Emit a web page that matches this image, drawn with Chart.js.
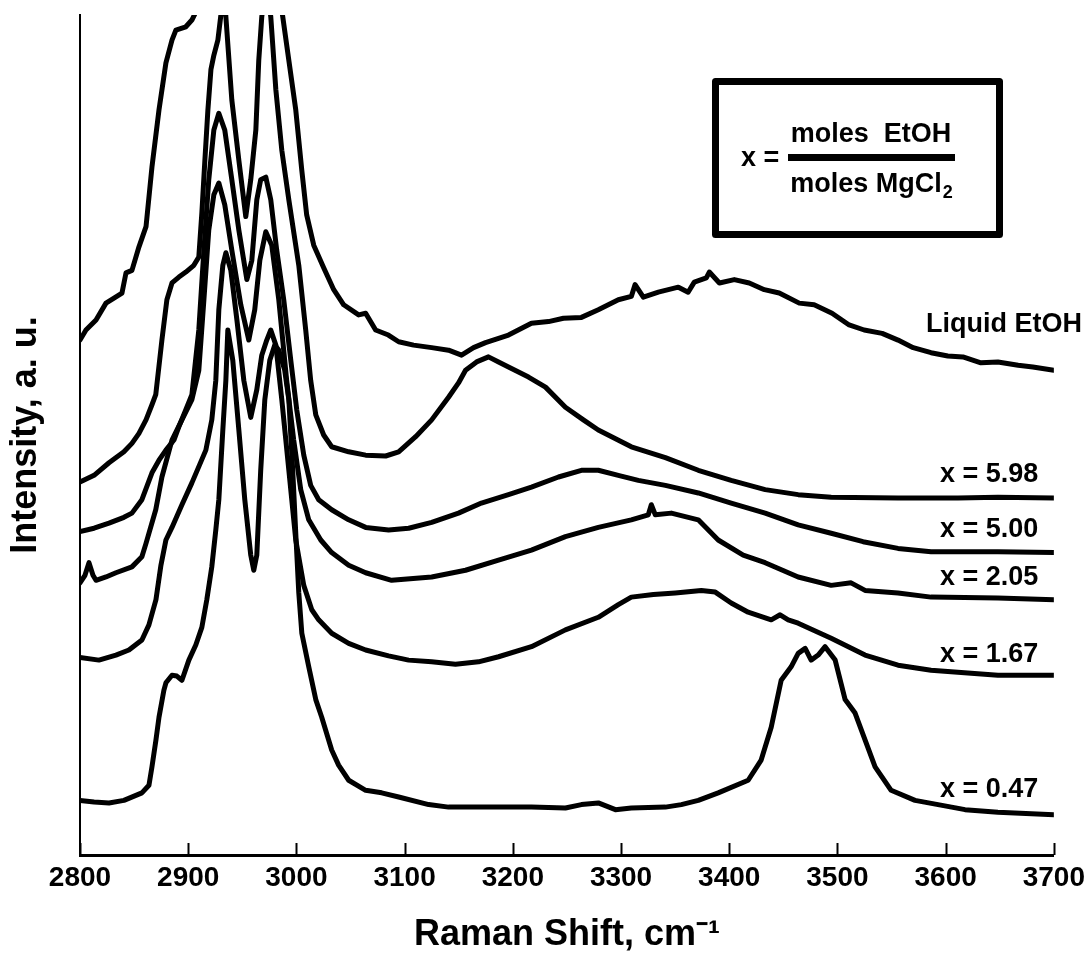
<!DOCTYPE html>
<html>
<head>
<meta charset="utf-8">
<title>Raman EtOH / MgCl2</title>
<script src="https://cdn.jsdelivr.net/npm/chart.js@4.4.1/dist/chart.umd.min.js"></script>
<style>
  html, body { margin: 0; padding: 0; background: #fff; }
  #raman { display: block; }
</style>
</head>
<body>
<canvas id="raman" width="1091" height="966"></canvas>
<script>
// espectros: [deslocamento Raman (cm-1), intensidade (u.a.)]
const shiftTicks = [2800, 2900, 3000, 3100, 3200, 3300, 3400, 3500, 3600, 3700];

const seriesNames = ['Liquid EtOH', 'x = 5.98', 'x = 5.00', 'x = 2.05', 'x = 1.67', 'x = 0.47'];

const liquidEtOH = [
  [2800, 61.3], [2805.5, 62.5], [2814.8, 63.7], [2824, 65.7], [2831.4, 66.3], [2838.8, 66.9],
  [2842.5, 69.3], [2848, 69.6], [2854.5, 72.4], [2861, 74.8], [2866.5, 81.9], [2873, 88.7],
  [2879.4, 94.3], [2885, 97.0], [2888.6, 98.2], [2897.8, 98.6], [2903.4, 99.4], [2908, 100.6],
  [2915, 112], [2930, 135], [2950, 120], [2975, 140], [2986.5, 100.6], [2993, 94.6],
  [2999.4, 88.7], [3005, 81.5], [3009.5, 76.2], [3016, 72.6], [3025.2, 69.9], [3034.5, 67.3],
  [3043.7, 65.5], [3057.5, 64.3], [3064, 64.5], [3073.2, 62.5], [3085, 61.9], [3094.5, 61.1],
  [3108.3, 60.7], [3125, 60.4], [3140.6, 60.1], [3152.6, 59.5], [3163.7, 60.4], [3174.8, 61.0],
  [3196, 61.9], [3217.2, 63.3], [3233, 63.5], [3246.8, 63.9], [3263.4, 64.0], [3279, 64.9],
  [3297.5, 66.1], [3309.5, 66.5], [3313, 67.9], [3320.6, 66.4], [3334.5, 67.0], [3353, 67.6],
  [3362, 67.0], [3367.7, 68.2], [3378.8, 68.7], [3381.6, 69.4], [3390.9, 68.1], [3404.7, 68.5],
  [3418.5, 68.1], [3432.4, 67.3], [3446.2, 66.9], [3464.7, 65.7], [3478.5, 65.5], [3495, 64.5],
  [3510.8, 63.1], [3524.7, 62.5], [3541.3, 62.1], [3556, 61.3], [3570, 60.4], [3586.5, 59.8],
  [3602, 59.4], [3616, 59.3], [3632.6, 58.6], [3648.3, 58.7], [3667, 58.3], [3680.6, 58.1],
  [3700, 57.7]
];

const x598 = [
  [2800, 44.4], [2813, 45.2], [2826.8, 46.7], [2840.6, 48.0], [2848, 49.0], [2854.5, 50.2],
  [2861, 51.8], [2866.5, 53.6], [2870, 54.8], [2875.7, 61.3], [2880.3, 66.1], [2885, 68.1],
  [2891.4, 68.8], [2897.8, 69.4], [2905.2, 70.2], [2909.8, 71.2], [2912.6, 76.4], [2915.4, 82.7],
  [2918.2, 88.7], [2921, 93.5], [2923.7, 95.2], [2927.4, 97.0], [2930.2, 100], [2933, 104],
  [2934.8, 99.8], [2940.3, 89.9], [2946.8, 82.7], [2953.2, 76.0], [2957.8, 80.4], [2962.5, 86.3],
  [2965.2, 94.6], [2968, 99.8], [2972, 104], [2976.3, 99.8], [2981, 91.1], [2986.5, 83.9],
  [2993, 78.0], [3002.2, 70.2], [3008.6, 62.5], [3013.2, 56.5], [3017.9, 52.4], [3025.2, 50.0],
  [3032.6, 48.6], [3048.3, 48.0], [3064, 47.6], [3082.5, 47.5], [3094.5, 48.0], [3110.2, 49.8],
  [3125, 51.8], [3140.6, 54.5], [3149.8, 56.2], [3156.3, 57.7], [3166.5, 58.7], [3177.5, 59.3],
  [3186.8, 58.7], [3196, 58.1], [3214.5, 56.9], [3230.2, 55.7], [3248.6, 53.3], [3265.2, 51.8],
  [3279, 50.6], [3309.5, 48.6], [3341, 47.3], [3371.4, 45.8], [3401.8, 44.6], [3433.2, 43.5],
  [3463.7, 42.9], [3494.2, 42.6], [3556, 42.5], [3611.4, 42.5], [3648.3, 42.6], [3700, 42.5]
];

const x500 = [
  [2800, 38.5], [2813, 38.9], [2826.8, 39.5], [2840.6, 40.2], [2848, 40.7], [2857.2, 42.3],
  [2866.5, 45.5], [2873, 47.0], [2879.4, 48.2], [2886.8, 49.4], [2891.4, 51.0], [2897.8, 53.0],
  [2903.4, 54.8], [2909.8, 62.5], [2914.5, 72.0], [2919, 80.4], [2923.7, 86.3], [2928.3, 88.3],
  [2933.8, 86.3], [2940.3, 80.4], [2946.8, 74.4], [2954.2, 68.5], [2958.8, 70.8], [2963.4, 78.0],
  [2967, 80.4], [2971.7, 80.7], [2976.3, 78.0], [2981.8, 72.0], [2988.3, 66.1], [2994.8, 58.9],
  [3000.3, 53.0], [3006.8, 47.6], [3013.2, 44.0], [3020.6, 42.3], [3032.6, 41.1], [3048.3, 39.9],
  [3064, 39.0], [3085.2, 38.7], [3103.7, 38.9], [3125, 39.6], [3149.8, 40.7], [3171, 41.9],
  [3196, 42.9], [3217.2, 43.8], [3242.2, 45.0], [3263.4, 45.8], [3279, 45.8], [3297.5, 45.2],
  [3316, 44.6], [3341, 44.0], [3371.4, 43.1], [3401.8, 41.9], [3433.2, 40.7], [3463.7, 39.3],
  [3494.2, 38.3], [3523.7, 37.3], [3556, 36.5], [3586.5, 36.1], [3648.3, 36.1], [3700, 36.0]
];

const x205 = [
  [2800, 32.4], [2804.6, 33.3], [2808.3, 34.8], [2812, 33.3], [2814.8, 32.7], [2824, 33.1],
  [2833.2, 33.6], [2848, 34.3], [2857.2, 35.5], [2861, 37.1], [2870, 41.1], [2875.7, 45.0],
  [2885, 49.4], [2894.2, 51.8], [2903.4, 54.2], [2909.8, 57.7], [2914.5, 66.1], [2919, 74.4],
  [2923.7, 78.6], [2928.3, 80.0], [2933.8, 77.4], [2940.3, 72.0], [2948.6, 65.5], [2956, 61.3],
  [2961.5, 64.9], [2966.2, 70.8], [2971.7, 74.2], [2977.2, 72.6], [2983.7, 66.1], [2991, 56.5],
  [2997.5, 49.4], [3004, 43.5], [3011.4, 39.9], [3022.5, 37.5], [3032.6, 36.0], [3048.3, 34.5],
  [3064, 33.6], [3088, 32.7], [3125, 33.1], [3156.3, 33.9], [3186.8, 35.1], [3217.2, 36.3],
  [3248.6, 37.9], [3279, 39.0], [3309.5, 39.9], [3325.2, 40.5], [3328, 41.7], [3331.7, 40.5],
  [3346.5, 40.7], [3371.4, 39.9], [3389.8, 37.5], [3412.9, 35.7], [3433.2, 34.8], [3463.7, 33.1],
  [3494.2, 32.1], [3512.6, 32.4], [3525.5, 31.5], [3556, 31.2], [3586.5, 30.7], [3648.3, 30.6],
  [3700, 30.4]
];

const x167 = [
  [2800, 23.5], [2817.5, 23.2], [2833.2, 23.8], [2845.2, 24.4], [2857.2, 25.6], [2863.7, 27.4],
  [2870.2, 30.4], [2874.8, 34.5], [2879.4, 37.5], [2885, 39.0], [2894.2, 41.7], [2903.4, 44.3],
  [2916.3, 48.2], [2921.8, 51.8], [2925.5, 56.5], [2928.3, 64.9], [2932, 70.2], [2934.8, 71.7],
  [2939.4, 69.6], [2945, 63.7], [2951.4, 56.5], [2957.8, 52.1], [2963.4, 55.4], [2968, 59.5],
  [2972.6, 61.3], [2976.3, 62.5], [2981, 60.7], [2986.5, 54.2], [2993, 45.8], [2999.4, 37.5],
  [3006.8, 32.1], [3014.2, 29.2], [3020.6, 28.0], [3032.6, 26.4], [3048.3, 25.2], [3064, 24.4],
  [3085.2, 23.7], [3103.7, 23.2], [3125, 23.0], [3147, 22.7], [3168.3, 23.0], [3186.8, 23.6],
  [3217.2, 24.8], [3248.6, 26.8], [3279, 28.3], [3297.5, 29.8], [3309.5, 30.7], [3329.9, 31.0],
  [3350.1, 31.2], [3374.2, 31.5], [3387.1, 31.3], [3401.8, 30.0], [3417.5, 28.9], [3438.8, 28.0],
  [3447, 28.6], [3454.5, 28.0], [3463.7, 27.6], [3494.2, 25.8], [3525.5, 23.8], [3556, 22.6],
  [3586.5, 22.0], [3648.3, 21.4], [3700, 21.4]
];

const x047 = [
  [2800, 6.5], [2813, 6.3], [2826.8, 6.2], [2840.6, 6.5], [2857.2, 7.4], [2863.7, 8.3],
  [2866.5, 10.5], [2870.2, 13.7], [2873, 16.4], [2877.5, 19.6], [2879.4, 20.5], [2885, 21.4],
  [2889.5, 21.3], [2894.2, 20.8], [2900.6, 23.2], [2907, 25.0], [2912.6, 27.1], [2917.2, 30.4],
  [2921.8, 34.3], [2925.5, 38.7], [2928.3, 42.3], [2932, 50.6], [2934.8, 56.5], [2936.6, 62.5],
  [2941.2, 58.9], [2946.8, 50.6], [2952.3, 42.3], [2957.8, 35.7], [2960.6, 33.9], [2963.4, 35.7],
  [2967, 45.8], [2970.8, 54.2], [2975.4, 58.9], [2980, 60.7], [2983.7, 60.1], [2989.2, 57.7],
  [2993, 54.2], [2996.6, 45.8], [2999.4, 38.3], [3002.2, 31.2], [3005, 26.4], [3011.4, 22.4],
  [3017.9, 18.5], [3023.4, 16.4], [3032.6, 12.5], [3039, 10.7], [3048.3, 8.9], [3064, 7.7],
  [3078.8, 7.4], [3094.5, 6.9], [3122.2, 6.0], [3140.6, 5.7], [3186.8, 5.7], [3217.2, 5.7],
  [3248.6, 5.6], [3263.4, 6.0], [3279, 6.2], [3294.8, 5.4], [3309.5, 5.6], [3341, 5.7],
  [3355.7, 6.0], [3371.4, 6.5], [3389.8, 7.4], [3417.5, 8.9], [3429.5, 11.3], [3438.8, 15.2],
  [3448, 20.8], [3457.2, 22.4], [3463.7, 24.0], [3470.2, 24.6], [3475.7, 23.2], [3482.2, 23.8],
  [3488.6, 24.8], [3497.9, 23.2], [3507.1, 18.5], [3516.3, 16.9], [3525.5, 13.7], [3534.8, 10.5],
  [3549.6, 7.7], [3571.7, 6.5], [3593, 6.0], [3617.9, 5.4], [3648.3, 5.1], [3700, 4.8]
];

const spectra = [liquidEtOH, x598, x500, x205, x167, x047];

const fonteBold = "'Liberation Sans', Arial, sans-serif";

// rótulos das curvas, caixa com a fórmula e os ticks para dentro
const anotacoes = {
  id: 'anotacoes',
  afterDraw(chart) {
    const ctx = chart.ctx;
    const xs = chart.scales.x;
    const area = chart.chartArea;
    ctx.save();

    // ticks do eixo x apontando para dentro
    ctx.strokeStyle = '#000';
    ctx.lineWidth = 2;
    shiftTicks.forEach(v => {
      const px = Math.round(xs.getPixelForValue(v)) + 0.5;
      ctx.beginPath();
      ctx.moveTo(px, area.bottom);
      ctx.lineTo(px, area.bottom - 12);
      ctx.stroke();
    });

    // nomes das curvas
    ctx.fillStyle = '#000';
    ctx.font = 'bold 27px ' + fonteBold;
    ctx.textBaseline = 'alphabetic';
    ctx.textAlign = 'right';
    ctx.fillText(seriesNames[0], 1082, 332);
    ctx.textAlign = 'left';
    const baselines = [482, 537, 585, 662, 797];
    for (let i = 1; i < seriesNames.length; i++) {
      ctx.fillText(seriesNames[i], 940, baselines[i - 1]);
    }

    // caixa x = moles EtOH / moles MgCl2
    ctx.lineWidth = 7;
    ctx.lineJoin = 'round';
    ctx.strokeRect(715.5, 81.5, 284, 153);
    ctx.fillRect(788, 154, 167, 7);
    ctx.textAlign = 'left';
    ctx.fillText('x =', 741, 166);
    ctx.textAlign = 'center';
    ctx.fillText('moles  EtOH', 871, 142);
    ctx.textAlign = 'left';
    const w1 = ctx.measureText('moles MgCl').width;
    ctx.font = 'bold 18px ' + fonteBold;
    const w2 = ctx.measureText('2').width;
    const x0 = 871 - (w1 + w2) / 2;
    ctx.font = 'bold 27px ' + fonteBold;
    ctx.fillText('moles MgCl', x0, 192);
    ctx.font = 'bold 18px ' + fonteBold;
    ctx.fillText('2', x0 + w1 + 1, 198);

    ctx.restore();
  }
};

const dados = {
  datasets: spectra.map((s, i) => ({
    label: seriesNames[i],
    data: s,
    borderColor: '#000',
    borderWidth: 5,
    pointRadius: 0,
    tension: 0,
    borderJoinStyle: 'round',
    borderCapStyle: 'round',
    fill: false
  }))
};

const opcoes = {
  responsive: false,
  animation: false,
  layout: { padding: { top: 15, right: 35, left: 0, bottom: 0 } },
  plugins: {
    legend: { display: false },
    tooltip: { enabled: false },
    title: { display: false }
  },
  scales: {
    x: {
      type: 'linear',
      min: 2800,
      max: 3700,
      afterBuildTicks: s => { s.ticks = shiftTicks.map(v => ({ value: v })); },
      afterFit: s => { s.height = 111; },
      grid: { drawOnChartArea: false, drawTicks: false },
      border: { display: true, color: '#000', width: 3 },
      ticks: {
        padding: 6,
        color: '#000',
        maxRotation: 0,
        autoSkip: false,
        callback: v => String(v),
        font: { family: fonteBold, size: 28, weight: 'bold' }
      },
      title: {
        display: true,
        text: 'Raman Shift, cm\u207B\u00B9',
        color: '#000',
        font: { family: fonteBold, size: 36, weight: 'bold', lineHeight: 1 },
        padding: { top: 0, bottom: 13 }
      }
    },
    y: {
      min: 0,
      max: 100,
      afterFit: s => { s.width = 80; },
      grid: { drawOnChartArea: false, drawTicks: false },
      border: { display: true, color: '#000', width: 2 },
      ticks: { display: false },
      title: {
        display: true,
        text: 'Intensity, a. u.',
        color: '#000',
        font: { family: fonteBold, size: 36, weight: 'bold', lineHeight: 1 },
        padding: { top: 8, bottom: 0 }
      }
    }
  }
};

const grafico = new Chart(document.getElementById('raman'), {
  type: 'line',
  data: dados,
  options: opcoes,
  plugins: [anotacoes]
});
</script>
</body>
</html>
